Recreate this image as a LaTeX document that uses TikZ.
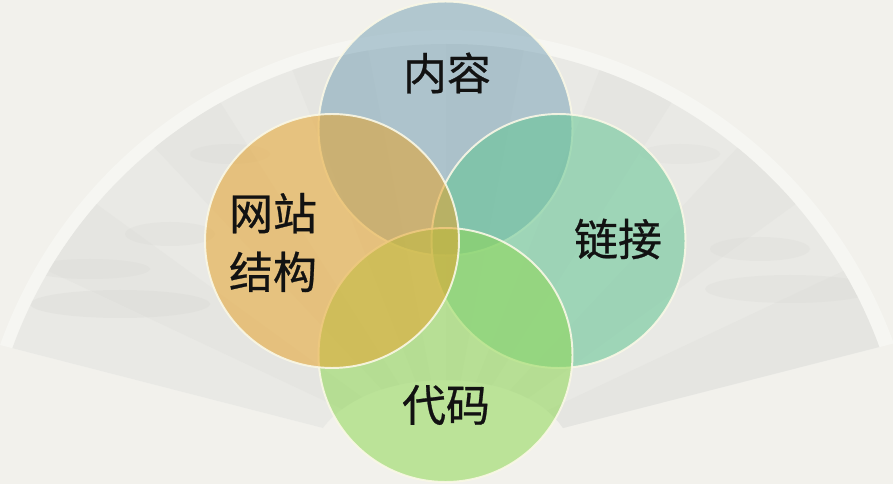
\documentclass[tikz,border=0pt]{standalone}
\usepackage{fontspec}
\newfontfamily\cjk[FakeBold=0.6]{Noto Sans CJK SC}
\definecolor{bgcol}{HTML}{F2F1EC}
\definecolor{bandcol}{HTML}{F6F6F2}
\definecolor{papercol}{HTML}{E9E9E5}
\definecolor{pleatcol}{HTML}{E5E5E1}
\definecolor{paintcol}{HTML}{D2D2CE}
\definecolor{rimcol}{HTML}{FAF8E6}
\definecolor{txtcol}{HTML}{121212}
\definecolor{ctop}{HTML}{7DA5B8}
\definecolor{cright}{HTML}{62C693}
\definecolor{cbottom}{HTML}{8FD854}
\definecolor{cleft}{HTML}{E5A32C}
\begin{document}
\begin{tikzpicture}[x=0.02cm,y=0.02cm,
  circ/.style={circle, minimum size=5.08cm, inner sep=0pt, draw=rimcol,
    line width=1.1pt, fill opacity=0.55, draw opacity=0.9},
  lbl/.style={font=\cjk\fontsize{25}{33.4}\selectfont, text=txtcol,
    align=center, inner sep=0pt}]
\fill[bgcol] (0,0) rectangle (893,484);
\useasboundingbox (0,0) rectangle (893,484);

% ---- fan background ----
\coordinate (O) at (446,-21);
\coordinate (fanL) at (0,139);
\coordinate (fanR) at (893,141);
\coordinate (inR) at (563,56);
\coordinate (inL) at (323,56);
\fill[bandcol] (fanL) arc[start angle=160.3, end angle=19.9, radius=475]
  -- (inR) .. controls (520,120) and (370,120) .. (inL) -- cycle;
\begin{scope}
  \clip (fanL) arc[start angle=160.3, end angle=19.9, radius=475]
    -- (inR) .. controls (520,120) and (370,120) .. (inL) -- cycle;
  \clip (O) circle (461);
  \fill[papercol] (0,0) rectangle (893,484);
  \foreach \a in {14.4,36.0,57.6,79.2,100.8,122.4,144.0}
    \fill[pleatcol] (446,26) -- +(\a:700) -- +(\a+10.8:700) -- cycle;
  % faint painting strokes
  \fill[paintcol, opacity=0.22] (120,180) ellipse (90 and 14);
  \fill[paintcol, opacity=0.2] (170,250) ellipse (45 and 12);
  \fill[paintcol, opacity=0.2] (90,215) ellipse (60 and 10);
  \fill[paintcol, opacity=0.2] (790,195) ellipse (85 and 14);
  \fill[paintcol, opacity=0.18] (760,235) ellipse (50 and 12);
  \fill[paintcol, opacity=0.16] (230,330) ellipse (40 and 10);
  \fill[paintcol, opacity=0.16] (680,330) ellipse (40 and 10);
\end{scope}

% ---- circles ----
\node[circ, fill=ctop]    (top)    at (445.5,355.5) {};
\node[circ, fill=cright]  (right)  at (558.5,243) {};
\node[circ, fill=cbottom] (bottom) at (445.5,129) {};
\node[circ, fill=cleft]   (left)   at (332,243) {};

% ---- labels ----
\node[lbl] (ltop)    at (447,411)   {内容};
\node[lbl] (lright)  at (618,245)   {链接};
\node[lbl] (lleft)   at (273,241.5) {网站\\结构};
\node[lbl] (lbottom) at (446,79)    {代码};
\end{tikzpicture}
\end{document}
